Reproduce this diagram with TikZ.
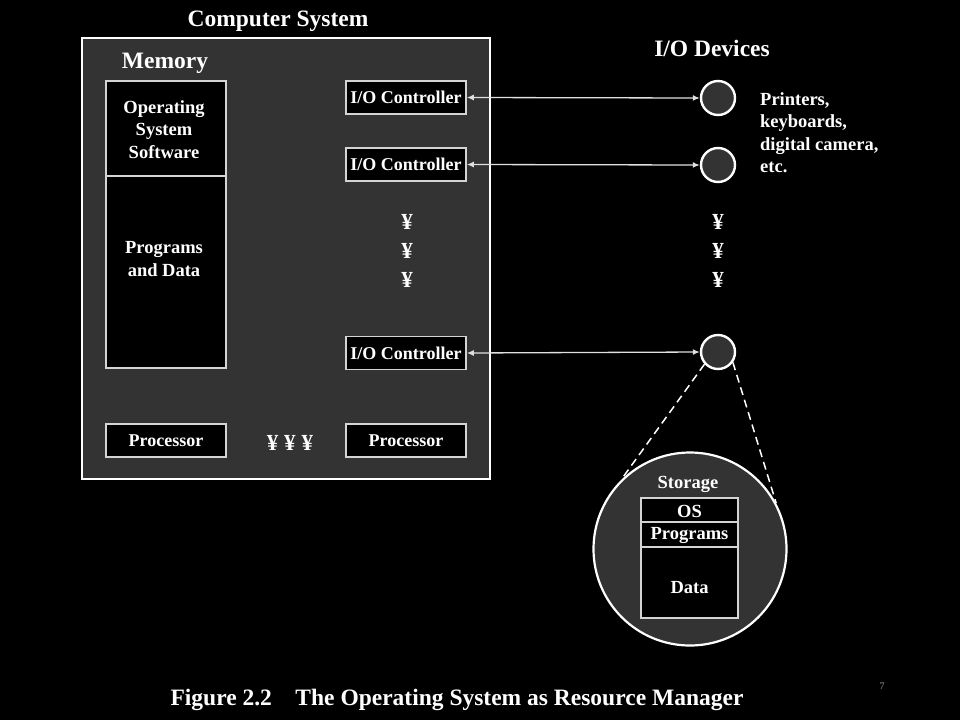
\documentclass[tikz,border=0pt]{standalone}
\usepackage{fontspec}
\setmainfont{Liberation Serif}
\usetikzlibrary{arrows.meta}
\definecolor{panel}{HTML}{333333}
\definecolor{boxline}{HTML}{D4D4D4}
\definecolor{linec}{HTML}{E0E0E0}
\begin{document}
\begin{tikzpicture}[x=1pt,y=-1pt,
  title/.style={text=white,font=\bfseries\fontsize{23.5}{26}\selectfont,inner sep=0pt},
  lbl/.style={text=white,font=\bfseries\fontsize{18.5}{22.5}\selectfont,align=center,inner sep=0pt},
  yen/.style={text=white,font=\bfseries\fontsize{23}{24}\selectfont,inner sep=0pt},
  box/.style={draw=boxline,line width=1.6pt,fill=black,inner sep=0pt},
  iobox/.style={box,minimum width=120pt,minimum height=33pt,text=white,font=\bfseries\fontsize{18}{20}\selectfont},
  dev/.style={circle,draw=white,line width=2.4pt,fill=panel,minimum size=34pt,inner sep=0pt},
  link/.style={draw=linec,line width=1.3pt,{Latex[length=7pt,width=6pt]}-{Latex[length=7pt,width=6pt]}},
  zoomline/.style={draw=white,line width=1.5pt,dash pattern=on 8pt off 5pt}]
\fill[black] (0,0) rectangle (960,720);
\useasboundingbox (0,0) rectangle (960,720);

% computer system
\node[title] (cstitle) at (278,21) {Computer System};
\node[draw=white,line width=2.2pt,fill=panel,minimum width=408pt,minimum height=441pt,inner sep=0pt] (cs) at (286,258.5) {};
\node[title] (memtitle) at (165,63) {Memory};

% memory
\node[box,minimum width=120pt,minimum height=287pt] (mem) at (166,224.5) {};
\coordinate (memdl) at (106,176);
\coordinate (memdr) at (226,176);
\draw[boxline,line width=1.6pt] (memdl) -- (memdr);
\node[lbl] (ossw) at (164,129.5) {Operating\\System\\Software};
\node[lbl] (pd) at (164,259) {Programs\\and Data};

% I/O controllers
\node[iobox] (io1) at (406,97.5) {I/O Controller};
\node[iobox] (io2) at (406,164.5) {I/O Controller};
\node[iobox] (io3) at (406,353) {I/O Controller};

% processors
\node[iobox] (p1) at (166,440.5) {Processor};
\node[iobox] (p2) at (406,440.5) {Processor};
\node[yen] (pdots) at (290,443) {¥\hspace{6pt}¥\hspace{6pt}¥};

% vertical dots
\node[yen] (y1) at (407,222) {¥};
\node[yen] (y2) at (407,251) {¥};
\node[yen] (y3) at (407,280) {¥};
\node[yen] (y4) at (718,222) {¥};
\node[yen] (y5) at (718,251) {¥};
\node[yen] (y6) at (718,280) {¥};

% devices
\node[title] (devtitle) at (712,48) {I/O Devices};
\node[dev] (d1) at (718,98) {};
\node[dev] (d2) at (718,165) {};
\node[dev] (d3) at (718,352) {};
\node[text=white,font=\bfseries\fontsize{18.5}{22.5}\selectfont,align=left,anchor=north west,inner sep=0pt] (devtext) at (760,92) {Printers,\\keyboards,\\digital camera,\\etc.};

\draw[link] (io1.east) -- (d1.west);
\draw[link] (io2.east) -- (d2.west);
\draw[link] (io3.east) -- (d3.west);

% storage zoom
\node[circle,draw=white,line width=2.2pt,fill=panel,minimum size=193pt,inner sep=0pt] (disk) at (690,549) {};
\draw[zoomline] (d3.222) -- (disk.135);
\draw[zoomline] (d3.-35) -- (disk.28);
\node[lbl] (stortitle) at (688,484) {Storage};
\node[box,minimum width=97pt,minimum height=120pt] (stor) at (689.5,558) {};
\coordinate (sd1l) at (641,522);
\coordinate (sd1r) at (738,522);
\coordinate (sd2l) at (641,547);
\coordinate (sd2r) at (738,547);
\draw[boxline,line width=1.6pt] (sd1l) -- (sd1r);
\draw[boxline,line width=1.6pt] (sd2l) -- (sd2r);
\node[lbl] (os) at (689.5,511) {OS};
\node[lbl] (prog) at (689.5,535.5) {Programs};
\node[lbl] (data) at (689.5,588) {Data};

% caption
\node[text=white,font=\bfseries\fontsize{23.5}{26}\selectfont] (cap) at (457,700) {Figure 2.2\quad The Operating System as Resource Manager};
\node[text=gray!80,font=\fontsize{10}{12}\selectfont] (pg) at (882,686) {7};
\end{tikzpicture}
\end{document}
